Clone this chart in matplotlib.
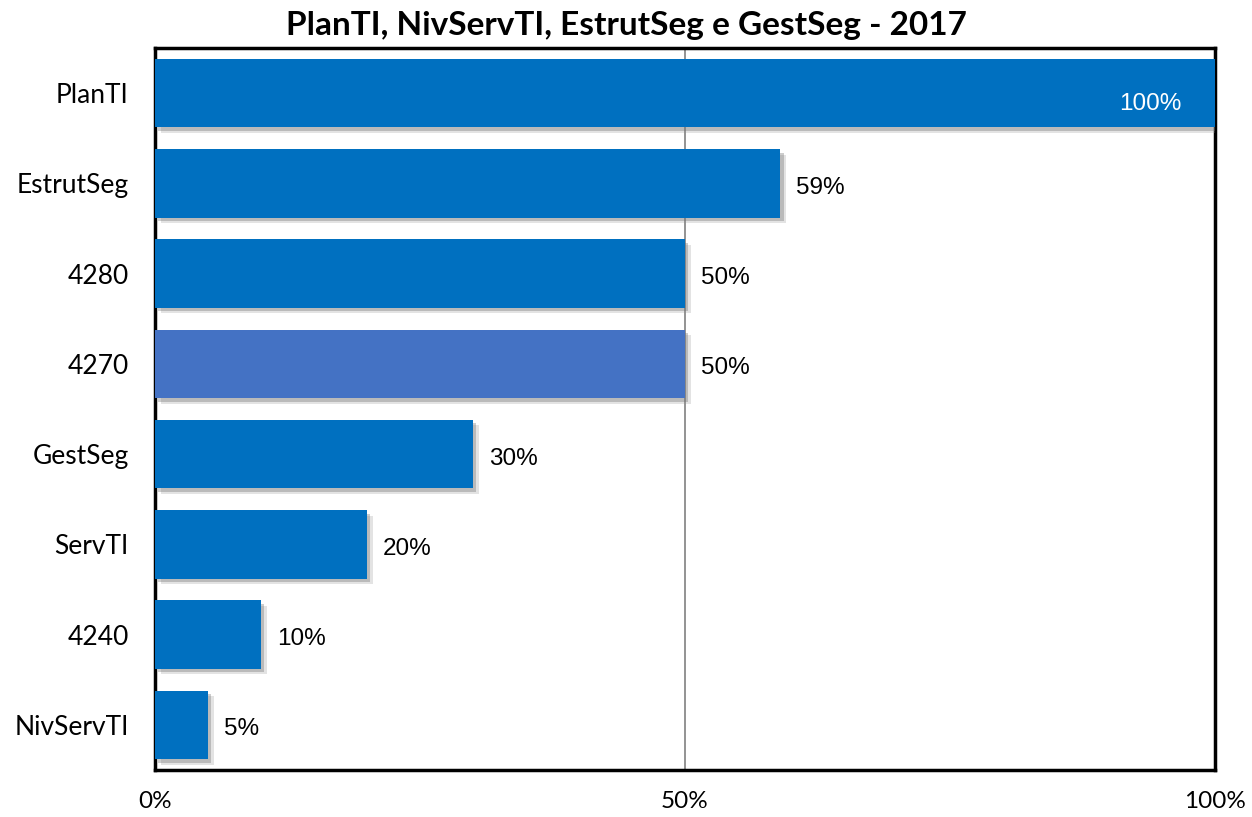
import matplotlib
matplotlib.use("Agg")
import matplotlib.pyplot as plt
import matplotlib.patheffects as pe
from matplotlib.ticker import FuncFormatter
from matplotlib.font_manager import FontProperties

categories = ["PlanTI", "EstrutSeg", "4280", "4270", "GestSeg", "ServTI", "4240", "NivServTI"]
values = [100, 59, 50, 50, 30, 20, 10, 5]
colors = ["#0070C0", "#0070C0", "#0070C0", "#4472C4", "#0070C0", "#0070C0", "#0070C0", "#0070C0"]
xticks = [0, 50, 100]
title = "PlanTI, NivServTI, EstrutSeg e GestSeg - 2017"

fig = plt.figure(figsize=(12.52, 8.17), dpi=100)
ax = fig.add_axes([155/1252, 1 - 770/817, (1215-155)/1252, (770-48)/817])

ypos = list(range(len(categories)))
bars = ax.barh(ypos, values, height=0.76, color=colors, zorder=3)
for b in bars:
    b.set_path_effects([
        pe.SimplePatchShadow(offset=(4, -4), shadow_rgbFace="#909090", alpha=0.25),
        pe.SimplePatchShadow(offset=(2.5, -2.5), shadow_rgbFace="#707070", alpha=0.35),
        pe.Normal()])

ax.set_ylim(len(categories) - 0.5, -0.5)
ax.set_xlim(0, 100)
ax.set_yticks(ypos)
ax.set_yticklabels(categories, fontsize=19, family="Lato")
ax.set_xticks(xticks)
ax.xaxis.set_major_formatter(FuncFormatter(lambda v, p: f"{v:.0f}%"))
for t in ax.get_xticklabels():
    t.set_fontsize(17.5)
    t.set_family("Lato")
ax.tick_params(axis="both", length=0)
ax.tick_params(axis="x", pad=15)
ax.tick_params(axis="y", pad=19)
ax.axvline(50, color="#808080", linewidth=1.2, zorder=1)
for s in ax.spines.values():
    s.set_linewidth(2.5)
    s.set_color("black")

lab_font = FontProperties(family=["Liberation Sans", "DejaVu Sans"], size=17.5)
for i, v in enumerate(values):
    if v >= 100:
        ax.text(v - 3.2, i + 0.12, f"{v}%", ha="right", va="center", color="white", fontproperties=lab_font, zorder=4)
    else:
        ax.text(v + 1.5, i + 0.05, f"{v}%", ha="left", va="center", color="black", fontproperties=lab_font, zorder=4)

fig.text(0.5, 1 - 25/817, title, ha="center", va="center", fontsize=24, fontweight="bold", family="Lato")

fig.savefig("out.png", dpi=100)
